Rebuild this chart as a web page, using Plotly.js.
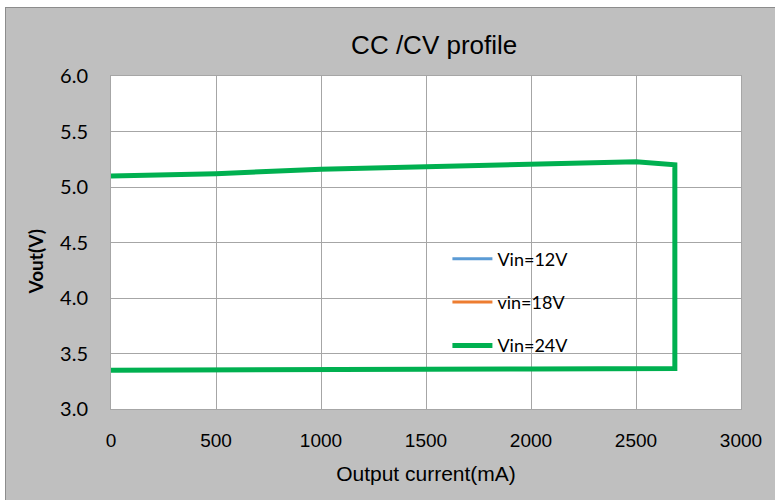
<!DOCTYPE html>
<html><head><meta charset="utf-8">
<script src="https://cdn.plot.ly/plotly-3.0.1.min.js"></script>
<style>
html,body{margin:0;padding:0;background:#fff;width:775px;height:500px;overflow:hidden}
#chart{position:absolute;left:5px;top:7px;width:769px;height:492px;border:1px solid #8c8c8c;border-right:none;border-bottom:none}
</style></head><body>
<div id="chart"></div>
<script>
const currentMA = [0, 500, 1000, 1500, 2000, 2500, 2685, 2685, 2000, 1000, 0];
const vout24 = [5.10, 5.12, 5.16, 5.18, 5.205, 5.228, 5.20, 3.365, 3.36, 3.355, 3.35];
const vout12 = vout24.slice();
const vout18 = vout24.slice();
const xTicks = [0, 500, 1000, 1500, 2000, 2500, 3000];
const yTicks = [3.0, 3.5, 4.0, 4.5, 5.0, 5.5, 6.0];
const yTickText = ['3.0','3.5','4.0','4.5','5.0','5.5','6.0'];

const traces = [
  {x: currentMA, y: vout12, name: 'Vin=12V', mode: 'lines', line: {color: '#5b9bd5', width: 3}, legendgroup: 'a'},
  {x: currentMA, y: vout18, name: 'vin=18V', mode: 'lines', line: {color: '#ed7d31', width: 3}, legendgroup: 'b'},
  {x: currentMA, y: vout24, name: 'Vin=24V', mode: 'lines', line: {color: '#00b050', width: 5}, legendgroup: 'c'}
];
const layout = {
  width: 769, height: 492,
  paper_bgcolor: '#bfbfbf', plot_bgcolor: '#ffffff',
  margin: {l: 105, r: 34, t: 68, b: 91},
  title: {text: 'CC /CV profile', font: {family: 'Liberation Sans, Arial', size: 26, color: '#000'}, x: 0.513, xref: 'paper', xanchor: 'center', y: 0.925, yref: 'container', yanchor: 'middle'},
  xaxis: {range: [0, 3000], tickvals: xTicks, showgrid: true, gridcolor: '#a6a6a6', gridwidth: 1,
    showline: true, linecolor: '#a6a6a6', mirror: true, zeroline: false, ticks: '', ticklabelstandoff: 14,
    tickfont: {family: 'Liberation Sans, Arial', size: 19, color: '#000'},
    title: {text: 'Output current(mA)', font: {family: 'Liberation Sans, Arial', size: 21, color: '#000'}, standoff: 16}},
  yaxis: {range: [3.0, 6.0], tickvals: yTicks, ticktext: yTickText, showgrid: true, gridcolor: '#a6a6a6', gridwidth: 1,
    showline: true, linecolor: '#a6a6a6', mirror: true, zeroline: false, ticks: '', ticklabelstandoff: 18,
    tickfont: {family: 'Lato, Carlito, sans-serif', size: 20, color: '#000'}},
  annotations: [{text: '<b>Vout(V)</b>', xref: 'paper', yref: 'paper', x: 0, y: 0.44, xshift: -76,
    textangle: -90, showarrow: false, xanchor: 'center', yanchor: 'middle',
    font: {family: 'Lato, sans-serif', size: 19, color: '#000'}}],
  legend: {x: 0.534, y: 0.32, xanchor: 'left', yanchor: 'middle', bgcolor: 'rgba(0,0,0,0)',
    font: {family: 'Lato, sans-serif', size: 18, color: '#000'}, tracegroupgap: 17, itemwidth: 40},
  showlegend: true
};
Plotly.newPlot('chart', traces, layout, {displayModeBar: false, staticPlot: true});
</script>
</body></html>
